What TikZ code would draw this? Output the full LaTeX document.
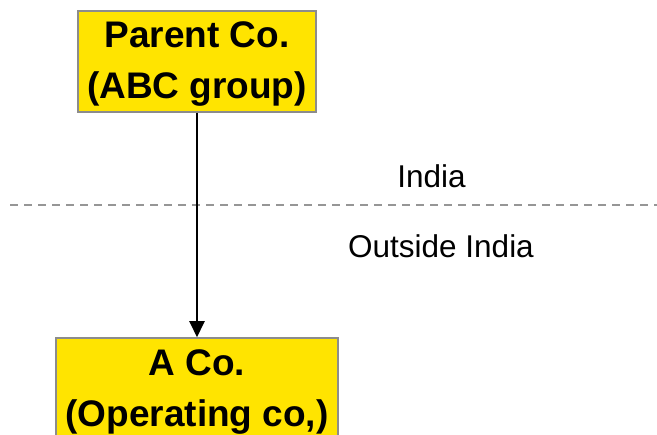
\documentclass[tikz,border=0pt]{standalone}
\usepackage{fontspec}
\setmainfont{Liberation Sans}
\usetikzlibrary{arrows.meta}
\definecolor{boxyellow}{RGB}{255,228,0}
\definecolor{boxborder}{RGB}{140,140,140}
\definecolor{dashgray}{RGB}{150,150,150}
\tikzset{
  entitybox/.style={draw=boxborder, line width=1.5pt, fill=boxyellow, inner sep=0pt},
  boxtext/.style={align=center, inner sep=0pt, font=\bfseries\fontsize{37}{51}\selectfont},
  regionlabel/.style={anchor=base, inner sep=0pt, font=\fontsize{31.5}{36}\selectfont},
  ownarrow/.style={line width=2pt, -{Triangle[length=16pt,width=15pt]}},
  borderline/.style={draw=dashgray, line width=2pt, dash pattern=on 8pt off 6pt}
}
\begin{document}
\begin{tikzpicture}[x=1pt,y=-1pt]
\useasboundingbox (0,0) rectangle (657,435);
\clip (0,0) rectangle (657,435);
\fill[white] (0,0) rectangle (657,435);
\coordinate (lineL) at (10,205);
\coordinate (lineR) at (657,205);
\draw[borderline] (lineL) -- (lineR);
\node[entitybox, minimum width=238pt, minimum height=101pt] (parent) at (197,61.5) {};
\node[boxtext] (parenttext) at ([yshift=-3pt]parent.center) {Parent Co.\\(ABC group)};
\node[entitybox, minimum width=282pt, minimum height=110pt] (aco) at (197,393) {};
\node[boxtext] (acotext) at ([yshift=1pt]aco.center) {A Co.\\(Operating co,)};
\draw[ownarrow] (parent.south) -- (aco.north);
\node[regionlabel] (india) at (431.5,188) {India};
\node[regionlabel] (outside) at (441,258) {Outside India};
\end{tikzpicture}
\end{document}
